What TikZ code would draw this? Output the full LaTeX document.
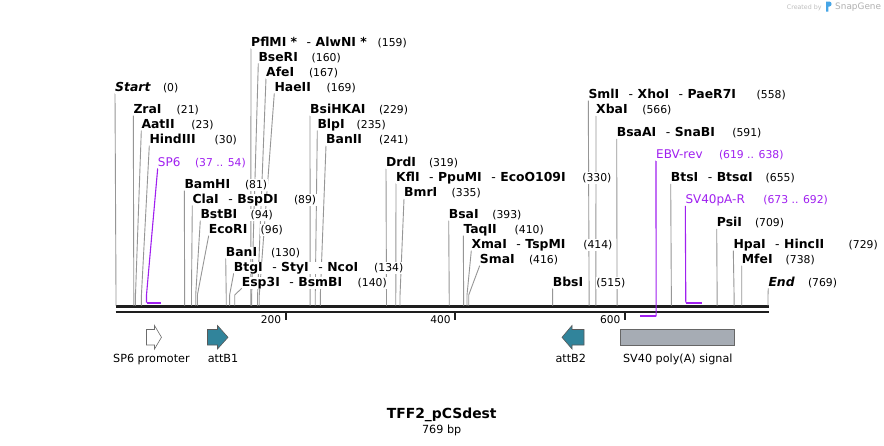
\documentclass[tikz,border=0pt]{standalone}
\usepackage{fontspec}
\setmainfont{DejaVu Sans}
\pgfdeclarelayer{bg}
\pgfsetlayers{bg,main}
\definecolor{primer}{RGB}{160,32,240}
\definecolor{featteal}{RGB}{49,132,155}
\definecolor{polyA}{RGB}{166,172,180}
\definecolor{leadgray}{RGB}{150,150,150}
\definecolor{bbone}{RGB}{30,30,30}
\definecolor{wmgray}{RGB}{190,190,190}
\definecolor{logoblue}{RGB}{70,165,230}
\newcommand{\dsh}{\hspace{9.5pt}{\mdseries -}\hspace{4.5pt}}
\newcommand{\site}[7]{%
  \pgfmathsetmacro{\sitex}{116+#2*0.84785}%
  \node[enz] (#1) at (#3,#4) {#5};
  \node[num] (#1n) at (#6,#4) {(#7)};
  \coordinate (#1b) at (\sitex,295);
  \coordinate (#1s) at (\sitex,305.5);
  \begin{pgfonlayer}{bg}
    \draw[leader] ([yshift=-2.2pt]#1.base west) -- (#1b) -- (#1s);
  \end{pgfonlayer}
}
\begin{document}
\begin{tikzpicture}[x=1pt,y=-1pt,
  enz/.style={anchor=base west, inner xsep=0pt, inner ysep=0.5pt, fill=white, text height=9pt, text depth=2pt, font=\fontsize{12.4}{14}\selectfont\bfseries},
  num/.style={anchor=base west, inner xsep=0.5pt, inner ysep=0.5pt, fill=white, text height=8.5pt, text depth=2pt, font=\fontsize{10.8}{13}\selectfont},
  prm/.style={anchor=base west, inner xsep=0pt, inner ysep=0.5pt, fill=white, text height=9pt, text depth=2pt, font=\fontsize{12}{14}\selectfont, text=primer},
  leader/.style={draw=leadgray, line width=0.9pt},
  pleader/.style={draw=primer, line width=1.1pt},
  pbar/.style={draw=primer, line width=2pt},
  bb/.style={draw=bbone, line width=2.6pt},
  tickmark/.style={draw=bbone, line width=1.8pt},
  ticklab/.style={anchor=base east, inner sep=0pt, font=\fontsize{10.6}{12}\selectfont},
  feat/.style={line width=0.6pt},
  featlab/.style={anchor=base, inner sep=0pt, font=\fontsize{11.2}{13}\selectfont}]

\begin{pgfonlayer}{bg}
  \fill[white] (0,0) rectangle (884,445);
  \coordinate (bbA) at (115.5,306.7); \coordinate (bbB) at (768.5,306.7);
  \coordinate (bbC) at (115.5,311.8); \coordinate (bbD) at (768.5,311.8);
  \draw[bb] (bbA) -- (bbB);
  \draw[bb] (bbC) -- (bbD);
  \coordinate (t2a) at (285.6,312); \coordinate (t2b) at (285.6,319.5);
  \coordinate (t4a) at (455.1,312); \coordinate (t4b) at (455.1,319.5);
  \coordinate (t6a) at (624.7,312); \coordinate (t6b) at (624.7,319.5);
  \draw[tickmark] (t2a) -- (t2b);
  \draw[tickmark] (t4a) -- (t4b);
  \draw[tickmark] (t6a) -- (t6b);
\end{pgfonlayer}
\path[use as bounding box] (0,0) rectangle (884,445);

\node[ticklab] (t2l) at (281.3,323.2) {200};
\node[ticklab] (t4l) at (450.9,323.2) {400};
\node[ticklab] (t6l) at (620.5,323.2) {600};

% enzyme sites
\site{start}{0}{115}{91.1}{\textit{Start}}{162.3}{0}
\site{zra}{21}{133.3}{113.5}{ZraI}{176}{21}
\site{aat}{23}{141.3}{128.5}{AatII}{190.7}{23}
\site{hind}{30}{149.3}{143.4}{HindIII}{214}{30}
\site{pfl}{159}{251}{46.1}{PflMI *\dsh AlwNI *}{377}{159}
\site{bse}{160}{258.3}{61.1}{BseRI}{311}{160}
\site{afe}{167}{266}{76.1}{AfeI}{308.3}{167}
\site{hae}{169}{274.3}{91.1}{HaeII}{326}{169}
\site{bsi}{229}{310}{113.5}{BsiHKAI}{378.3}{229}
\site{blp}{235}{317.3}{128.5}{BlpI}{356}{235}
\site{bantwo}{241}{326}{143.4}{BanII}{378.5}{241}
\site{bam}{81}{184.3}{188.4}{BamHI}{244.3}{81}
\site{cla}{89}{192.3}{203.4}{ClaI\dsh BspDI}{293.3}{89}
\site{bst}{94}{200.3}{218.4}{BstBI}{250}{94}
\site{eco}{96}{208.7}{233.4}{EcoRI}{260}{96}
\site{banone}{130}{225.7}{256.1}{BanI}{270.3}{130}
\site{btg}{134}{233.7}{271.1}{BtgI\dsh StyI\dsh NcoI}{373.5}{134}
\site{esp}{140}{241.7}{286.1}{Esp3I\dsh BsmBI}{357}{140}
\site{drd}{319}{386}{166.4}{DrdI}{428.3}{319}
\site{kfl}{330}{396}{181.2}{KflI\dsh PpuMI\dsh EcoO109I}{581.7}{330}
\site{bmr}{335}{404}{196.6}{BmrI}{451}{335}
\site{bsa}{393}{448.7}{218.4}{BsaI}{491.7}{393}
\site{taq}{410}{463.3}{233.4}{TaqII}{514}{410}
\site{xma}{414}{471.3}{248.4}{XmaI\dsh TspMI}{582.7}{414}
\site{sma}{416}{479.7}{263.4}{SmaI}{528.3}{416}
\site{bbs}{515}{552.7}{286.1}{BbsI}{595.7}{515}
\site{sml}{558}{588.3}{98.4}{SmlI\dsh XhoI\dsh PaeR7I}{756}{558}
\site{xba}{566}{596}{113.7}{XbaI}{641.7}{566}
\site{bsaa}{591}{616.7}{136.7}{BsaAI\dsh SnaBI}{731.7}{591}
\site{bts}{655}{670.7}{181.7}{BtsI\dsh BtsαI}{765}{655}
\site{psi}{709}{716.7}{226.7}{PsiI}{754.3}{709}
\site{hpa}{729}{733.3}{248.4}{HpaI\dsh HincII}{848}{729}
\site{mfe}{738}{741.7}{263.4}{MfeI}{785}{738}
\site{fin}{769}{768.3}{286.1}{\textit{End}}{807.3}{769}

% primers
\node[prm] (sp6) at (157.7,166.1) {SP6};
\node[num,text=primer] (sp6n) at (194.3,166.1) {(37 .. 54)};
\coordinate (sp6b) at (146.5,295);
\coordinate (sp6s) at (146.5,302.6);
\coordinate (sp6e) at (160.9,302.6);
\node[prm] (ebv) at (656,158.4) {EBV-rev};
\node[num,text=primer] (ebvn) at (718.3,158.4) {(619 .. 638)};
\coordinate (ebvs) at (656.1,316.3);
\coordinate (ebve) at (640,316.3);
\node[prm] (sva) at (685.3,203.7) {SV40pA-R};
\node[num,text=primer] (svan) at (762.7,203.7) {(673 .. 692)};
\coordinate (svas) at (685.8,302.6);
\coordinate (svae) at (701.9,302.6);
\begin{pgfonlayer}{bg}
  \draw[pleader] ([yshift=-2.2pt]sp6.base west) -- (sp6b) -- (sp6s);
  \draw[pbar] (sp6s) -- (sp6e);
  \draw[pleader] ([yshift=-2.2pt]ebv.base west) -- (ebvs);
  \draw[pbar] (ebvs) -- (ebve);
  \draw[pleader] ([yshift=-2.2pt]sva.base west) -- (svas);
  \draw[pbar] (svas) -- (svae);
\end{pgfonlayer}

% features
\draw[feat, draw=gray!85!black, fill=white] (146.5,329.5) -- (154.5,329.5) -- (154.5,325.5) -- (161.5,337.3) -- (154.5,349) -- (154.5,345) -- (146.5,345) -- cycle;
\draw[feat, draw=black!65, fill=featteal] (207.5,329.5) -- (217.5,329.5) -- (217.5,325.5) -- (228,337.3) -- (217.5,349) -- (217.5,345) -- (207.5,345) -- cycle;
\draw[feat, draw=black!65, fill=featteal] (584,329.5) -- (572,329.5) -- (572,325.5) -- (562,337.3) -- (572,349) -- (572,345) -- (584,345) -- cycle;
\draw[feat, draw=gray!80!black, fill=polyA] (620,329.5) rectangle (734,345);
\node[featlab] (sp6pl) at (151.4,362.5) {SP6 promoter};
\node[featlab] (attbonel) at (223,362.5) {attB1};
\node[featlab] (attbtwol) at (570.8,362.5) {attB2};
\node[featlab] (sv40l) at (677.8,362.5) {SV40 poly(A) signal};

% title
\node[anchor=base, inner sep=0pt, font=\fontsize{13.9}{16}\selectfont\bfseries] (title) at (441.7,418.5) {TFF2\_pCSdest};
\node[anchor=base, inner sep=0pt, font=\fontsize{11.2}{13}\selectfont] (bplen) at (441.7,433) {769 bp};

% watermark
\node[anchor=base west, inner sep=0pt, text=wmgray, font=\fontsize{6.3}{7}\selectfont] (cby) at (786.7,9.5) {Created by};
\fill[logoblue] (826,1.5) -- (829.3,1.5) .. controls (832.3,1.5) and (832.3,6.5) .. (829.3,6.5) -- (828.3,6.5) -- (828.3,11.5) -- (826,11.5) -- cycle;
\node[anchor=base west, inner sep=0pt, text=wmgray!80!gray, font=\fontsize{8.9}{10}\selectfont] (sgene) at (835,9.8) {SnapGene};
\end{tikzpicture}
\end{document}
